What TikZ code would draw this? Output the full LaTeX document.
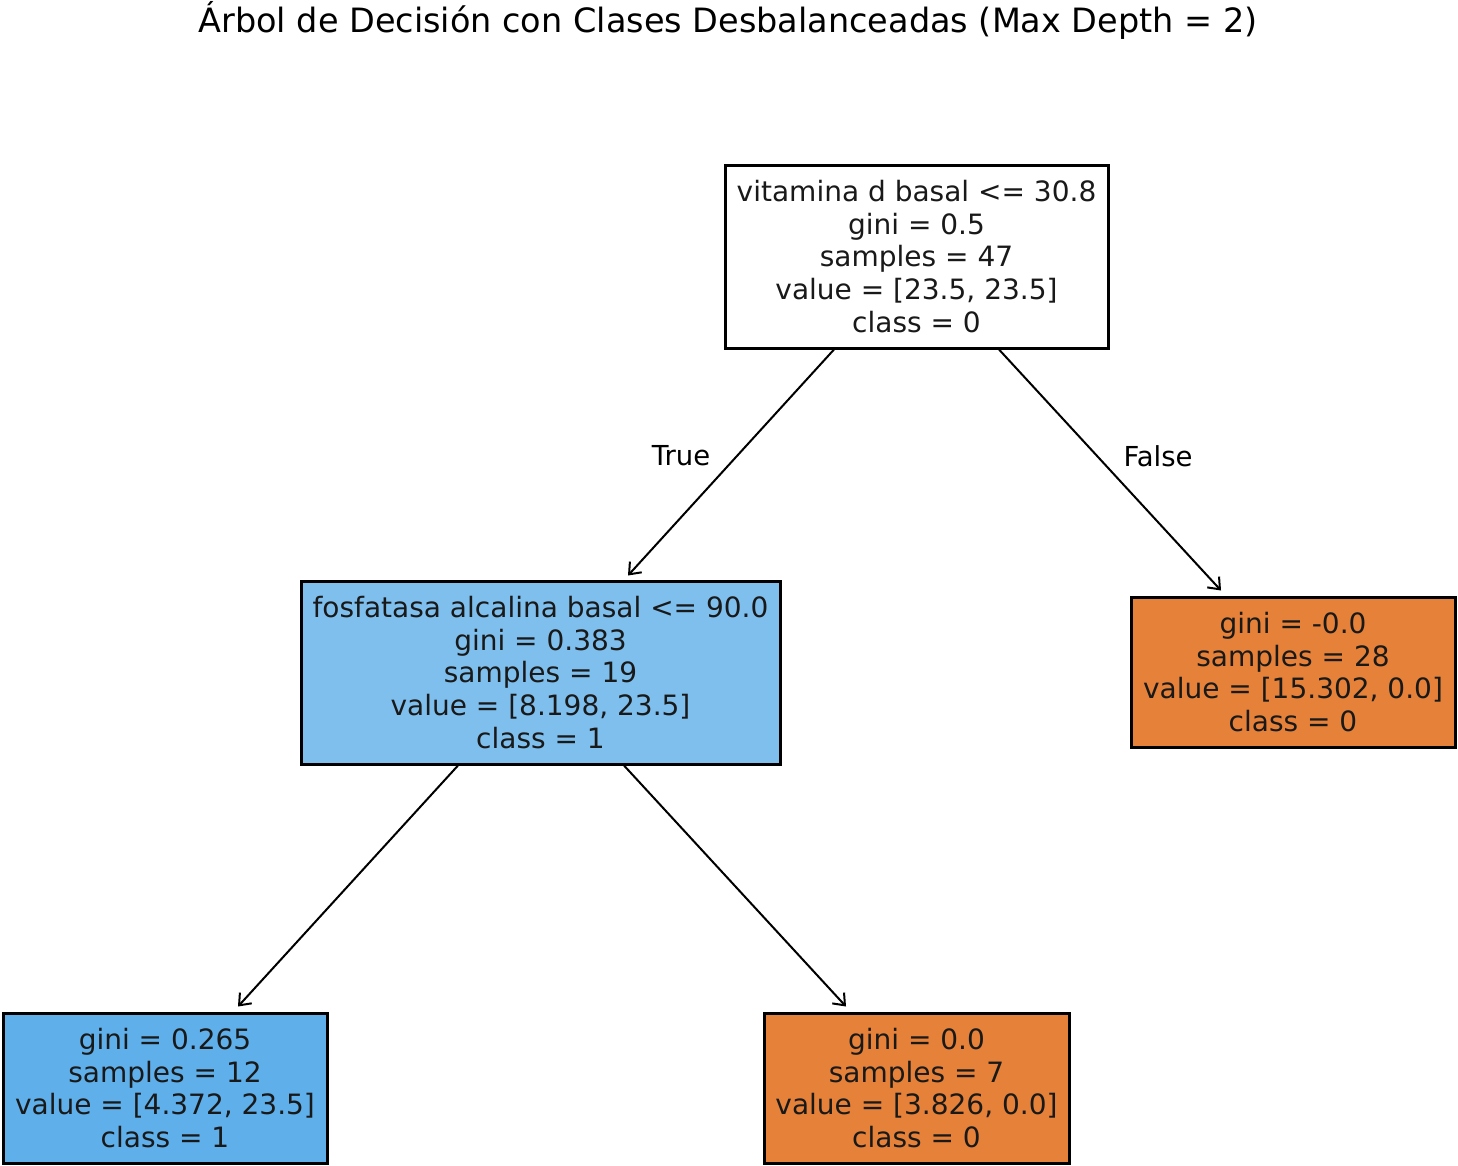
\documentclass[tikz,border=0pt]{standalone}
\usepackage{fontspec}
\setmainfont{DejaVu Sans}
\usetikzlibrary{arrows.meta}
\definecolor{blueA}{RGB}{126,191,238}
\definecolor{blueB}{RGB}{94,175,234}
\definecolor{orangeC}{RGB}{229,129,57}
\begin{document}
\begin{tikzpicture}[x=1pt,y=-1pt,
  treebox/.style={draw=black,line width=3pt,align=center,inner sep=0pt,
    font=\fontsize{28}{32.7}\selectfont,text=black!90},
  arr/.style={line width=2pt,-{Straight Barb[length=10pt,width=16pt,line width=2pt]}},
  edgelbl/.style={font=\fontsize{27.5}{30}\selectfont}]
\useasboundingbox[fill=white] (0,0) rectangle (1458,1165);
\node[font=\fontsize{33.5}{36}\selectfont] (title) at (728,20) {Árbol de Decisión con Clases Desbalanceadas (Max Depth = 2)};
\node[treebox,fill=white,minimum width=383pt,minimum height=183pt] (root) at (916.5,256.5)
  {vitamina d basal <= 30.8\\gini = 0.5\\samples = 47\\value = [23.5, 23.5]\\class = 0};
\node[treebox,fill=blueA,minimum width=479pt,minimum height=183pt] (mid) at (540.5,672.5)
  {fosfatasa alcalina basal <= 90.0\\gini = 0.383\\samples = 19\\value = [8.198, 23.5]\\class = 1};
\node[treebox,fill=orangeC,minimum width=324pt,minimum height=150pt] (rleaf) at (1293,672)
  {gini = -0.0\\samples = 28\\value = [15.302, 0.0]\\class = 0};
\node[treebox,fill=blueB,minimum width=324pt,minimum height=150pt] (bl) at (165,1088)
  {gini = 0.265\\samples = 12\\value = [4.372, 23.5]\\class = 1};
\node[treebox,fill=orangeC,minimum width=305pt,minimum height=150pt] (bm) at (916.5,1088)
  {gini = 0.0\\samples = 7\\value = [3.826, 0.0]\\class = 0};
\draw[arr] ([xshift=-82.5pt]root.south) -- ([xshift=87.5pt,yshift=4pt]mid.north);
\draw[arr] ([xshift=82.5pt]root.south) -- ([xshift=-72pt,yshift=5pt]rleaf.north);
\draw[arr] ([xshift=-82.5pt]mid.south) -- ([xshift=73pt,yshift=5pt]bl.north);
\draw[arr] ([xshift=83.5pt]mid.south) -- ([xshift=-70.5pt,yshift=5pt]bm.north);
\node[edgelbl] (tlbl) at (681,456) {True};
\node[edgelbl] (flbl) at (1158,456) {False};
\end{tikzpicture}
\end{document}
